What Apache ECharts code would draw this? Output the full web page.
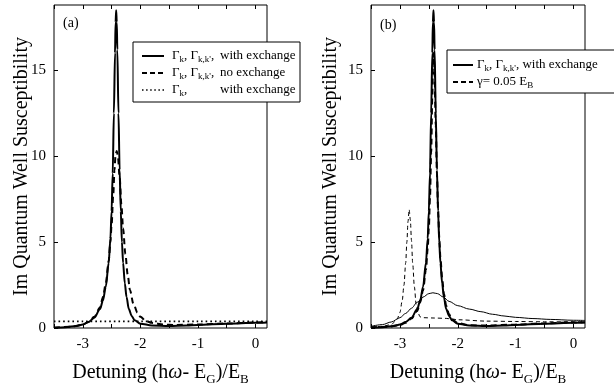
<!DOCTYPE html>
<html>
<head>
<meta charset="utf-8">
<script src="https://cdn.jsdelivr.net/npm/echarts@6/dist/echarts.min.js"></script>
<style>
  html, body { margin: 0; padding: 0; background: #fff; }
  #chart { width: 614px; height: 385px; }
</style>
</head>
<body>
<div id="chart"></div>
<script>
// Tick labels and tick marks for both panels
const xTickValues = [-3, -2, -1, 0];
const xMinorTicks = [-3.5, -3, -2.5, -2, -1.5, -1, -0.5, 0];
const yTickValues = [0, 5, 10, 15];

// Panel (a): Γk, Γk,k' with exchange (also reused in panel (b))
const withExchange = [
  [-3.5, 0.02], [-3.3, 0.05], [-3.1, 0.12], [-3.0, 0.2], [-2.9, 0.35], [-2.8, 0.6],
  [-2.7, 1.1], [-2.65, 1.6], [-2.6, 2.4], [-2.55, 3.8], [-2.52, 5.2], [-2.5, 6.8],
  [-2.48, 9.0], [-2.46, 12.5], [-2.44, 16.0], [-2.43, 17.8], [-2.42, 18.5], [-2.41, 17.8],
  [-2.40, 16.2], [-2.38, 12.5], [-2.36, 9.2], [-2.34, 6.8], [-2.32, 5.0], [-2.3, 3.8],
  [-2.27, 2.6], [-2.24, 1.8], [-2.2, 1.1], [-2.15, 0.7], [-2.1, 0.45], [-2.0, 0.25],
  [-1.8, 0.15], [-1.5, 0.12], [-1.2, 0.15], [-1.0, 0.18], [-0.5, 0.25], [0, 0.3], [0.2, 0.32]
];

// Panel (a): Γk, Γk,k' without exchange
const noExchange = [
  [-3.5, 0.02], [-3.2, 0.08], [-3.0, 0.2], [-2.9, 0.35], [-2.8, 0.65], [-2.7, 1.2],
  [-2.65, 1.8], [-2.6, 2.6], [-2.55, 3.9], [-2.52, 5.0], [-2.5, 6.0], [-2.47, 7.8],
  [-2.45, 9.2], [-2.43, 10.1], [-2.41, 10.3], [-2.39, 10.0], [-2.36, 8.8], [-2.33, 7.2],
  [-2.3, 5.8], [-2.26, 4.3], [-2.22, 3.1], [-2.18, 2.2], [-2.12, 1.4], [-2.05, 0.9],
  [-2.0, 0.65], [-1.9, 0.4], [-1.8, 0.3], [-1.6, 0.2], [-1.4, 0.18], [-1.0, 0.2],
  [-0.5, 0.26], [0, 0.32], [0.2, 0.34]
];

// Panel (a): Γk only, with exchange
const gammaKOnly = [
  [-3.5, 0.38], [-3.0, 0.38], [-2.0, 0.38], [-1.0, 0.38], [0, 0.38], [0.2, 0.38]
];

// Panel (b): constant broadening γ = 0.05 EB
const constGamma = [
  [-3.5, 0.03], [-3.2, 0.08], [-3.0, 0.18], [-2.9, 0.3], [-2.8, 0.55], [-2.7, 1.0],
  [-2.65, 1.5], [-2.6, 2.2], [-2.55, 3.4], [-2.52, 4.6], [-2.5, 5.8], [-2.48, 7.6],
  [-2.46, 10.2], [-2.44, 13.5], [-2.43, 15.2], [-2.42, 16.0], [-2.41, 15.6], [-2.40, 14.6],
  [-2.38, 11.8], [-2.36, 9.0], [-2.34, 6.9], [-2.32, 5.3], [-2.3, 4.1], [-2.27, 2.9],
  [-2.24, 2.0], [-2.2, 1.3], [-2.15, 0.8], [-2.1, 0.5], [-2.0, 0.28], [-1.8, 0.16],
  [-1.5, 0.14], [-1.0, 0.2], [-0.5, 0.27], [0, 0.32], [0.2, 0.34]
];

// Panel (b): thin dashed curve with the sharp low-energy peak
const thinDashed = [
  [-3.5, 0.05], [-3.3, 0.1], [-3.15, 0.2], [-3.05, 0.5], [-3.0, 0.9], [-2.96, 1.6],
  [-2.93, 2.5], [-2.9, 3.8], [-2.88, 5.0], [-2.86, 6.2], [-2.84, 6.9], [-2.82, 6.3],
  [-2.8, 5.1], [-2.78, 3.8], [-2.75, 2.4], [-2.72, 1.4], [-2.69, 0.9], [-2.65, 0.65],
  [-2.6, 0.6], [-2.4, 0.58], [-2.2, 0.56], [-2.1, 0.52], [-2.0, 0.48], [-1.5, 0.4],
  [-1.0, 0.38], [-0.5, 0.36], [0, 0.36], [0.2, 0.37]
];

// Panel (b): thin solid broad resonance
const thinSolid = [
  [-3.5, 0.1], [-3.3, 0.2], [-3.15, 0.35], [-3.0, 0.6], [-2.9, 0.85], [-2.8, 1.15],
  [-2.7, 1.5], [-2.6, 1.8], [-2.5, 2.0], [-2.43, 2.05], [-2.35, 2.0], [-2.25, 1.8],
  [-2.15, 1.55], [-2.0, 1.3], [-1.8, 1.1], [-1.6, 0.95], [-1.4, 0.8], [-1.2, 0.7],
  [-1.0, 0.62], [-0.7, 0.55], [-0.4, 0.5], [0, 0.45], [0.2, 0.44]
];

const FONT = '"Liberation Serif", "DejaVu Serif", serif';
const X_MIN = -3.5, X_MAX = 0.2, Y_MIN = 0, Y_MAX = 18.8;

const richSub = {
  n: { fontFamily: FONT, fontSize: 20, color: '#000', lineHeight: 26 },
  w: { fontFamily: FONT, fontSize: 20, fontStyle: 'italic', color: '#000', lineHeight: 26 },
  s: { fontFamily: FONT, fontSize: 13, color: '#000', verticalAlign: 'bottom', lineHeight: 16 }
};

function xAxisFor(gridIndex) {
  return [{
    type: 'value', gridIndex, min: X_MIN, max: X_MAX, interval: 0.5,
    position: 'bottom',
    name: '{n|Detuning (h}{w|ω}{n|- E}{s|G}{n|)/E}{s|B}',
    nameLocation: 'middle', nameGap: 32, nameMoveOverlap: false,
    nameTextStyle: { rich: richSub },
    axisLine: { show: false, onZero: false },
    axisTick: { inside: true, length: 4, lineStyle: { color: '#000' }, customValues: xMinorTicks },
    axisLabel: { margin: 9, fontFamily: FONT, fontSize: 15, color: '#000', customValues: xTickValues,
      formatter: v => String(v) },
    splitLine: { show: false }
  }, {
    type: 'value', gridIndex, min: X_MIN, max: X_MAX, interval: 0.5, position: 'top',
    axisLine: { show: false, onZero: false },
    axisTick: { inside: true, length: 4, lineStyle: { color: '#000' }, customValues: xMinorTicks },
    axisLabel: { show: false }, splitLine: { show: false }
  }];
}

function yAxisFor(gridIndex, gap) {
  return [{
    type: 'value', gridIndex, min: Y_MIN, max: Y_MAX, interval: 5, position: 'left',
    name: 'Im Quantum Well Susceptibility', nameLocation: 'middle', nameGap: gap,
    nameMoveOverlap: false,
    nameTextStyle: { fontFamily: FONT, fontSize: 20, color: '#000' },
    axisLine: { show: false, onZero: false },
    axisTick: { inside: true, length: 4, lineStyle: { color: '#000' }, customValues: yTickValues },
    axisLabel: { margin: 8, fontFamily: FONT, fontSize: 15, color: '#000', customValues: yTickValues },
    splitLine: { show: false }
  }];
}

function curve(name, data, xi, yi, width, dash) {
  return {
    name, type: 'line', data, xAxisIndex: xi, yAxisIndex: yi,
    symbol: 'none', smooth: 0.3, smoothMonotone: 'x', silent: true,
    lineStyle: { color: '#000', width, type: dash || 'solid' },
    z: 3
  };
}

const legendRich = {
  g: { fontFamily: FONT, fontSize: 13, color: '#000', lineHeight: 17 },
  s: { fontFamily: FONT, fontSize: 9, color: '#000', verticalAlign: 'bottom', lineHeight: 12 }
};

function legendText(x, y, text) {
  return { type: 'text', x, y, z: 101,
    style: { text, rich: legendRich, verticalAlign: 'middle', align: 'left' } };
}
function legendLine(x1, x2, y, width, dash) {
  return { type: 'line', z: 101, shape: { x1, y1: y, x2, y2: y },
    style: { stroke: '#000', lineWidth: width, lineDash: dash || null } };
}

const gridBase = { show: true, borderColor: '#000', borderWidth: 1, containLabel: false, outerBoundsMode: 'none' };

const chart = echarts.init(document.getElementById('chart'), null, { renderer: 'canvas' });
chart.setOption({
  animation: false,
  backgroundColor: '#fff',
  grid: [
    Object.assign({ left: 54, top: 5, width: 213, height: 323 }, gridBase),
    Object.assign({ left: 371, top: 5, width: 214, height: 323 }, gridBase)
  ],
  xAxis: [...xAxisFor(0), ...xAxisFor(1)],
  yAxis: [...yAxisFor(0, 22), ...yAxisFor(1, 30)],
  series: [
    curve('a-with', withExchange, 0, 0, 2),
    curve('a-no', noExchange, 0, 0, 2, [6, 4]),
    curve('a-gk', gammaKOnly, 0, 0, 1.8, [1.6, 3]),
    curve('b-with', withExchange, 2, 1, 2),
    curve('b-gamma', constGamma, 2, 1, 2, [6, 4]),
    curve('b-thin-dash', thinDashed, 2, 1, 1, [4, 3]),
    curve('b-thin', thinSolid, 2, 1, 1)
  ],
  graphic: [
    { type: 'text', x: 63, y: 23, z: 50,
      style: { text: '(a)', fontFamily: FONT, fontSize: 14, fill: '#000', verticalAlign: 'middle' } },
    { type: 'text', x: 380, y: 25, z: 50,
      style: { text: '(b)', fontFamily: FONT, fontSize: 14, fill: '#000', verticalAlign: 'middle' } },

    // legend of panel (a)
    { type: 'rect', z: 100, shape: { x: 133, y: 42, width: 167, height: 60 },
      style: { fill: '#fff', stroke: '#000', lineWidth: 1 } },
    legendLine(142, 164, 56, 2),
    legendLine(142, 164, 73, 2, [5, 3]),
    legendLine(142, 164, 90, 1.5, [1.5, 2.6]),
    legendText(172, 56, '{g|Γ}{s|k}{g|, Γ}{s|k,k\'}{g|,}'),
    legendText(220, 56, '{g|with exchange}'),
    legendText(172, 73, '{g|Γ}{s|k}{g|, Γ}{s|k,k\'}{g|,}'),
    legendText(220, 73, '{g|no exchange}'),
    legendText(172, 90, '{g|Γ}{s|k}{g|,}'),
    legendText(220, 90, '{g|with exchange}'),

    // legend of panel (b)
    { type: 'rect', z: 100, shape: { x: 447, y: 50, width: 180, height: 43 },
      style: { fill: '#fff', stroke: '#000', lineWidth: 1 } },
    legendLine(453, 473, 65, 2),
    legendLine(453, 473, 82, 2, [5, 3]),
    legendText(477, 65, '{g|Γ}{s|k}{g|, Γ}{s|k,k\'}{g|, with exchange}'),
    legendText(477, 82, '{g|γ= 0.05 E}{s|B}')
  ]
});
</script>
</body>
</html>
